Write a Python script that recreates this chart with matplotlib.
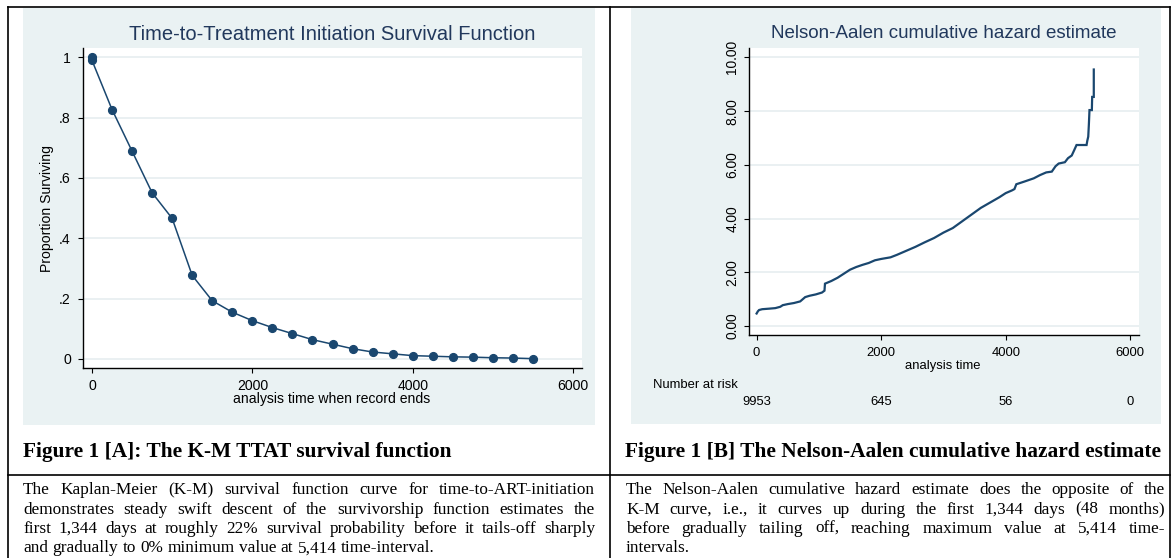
import matplotlib
matplotlib.use("Agg")
import matplotlib.pyplot as plt
from matplotlib.patches import Rectangle
from matplotlib.lines import Line2D
import matplotlib.transforms as mtransforms

# ---------------- data ----------------
km_time = [0, 0, 250, 500, 750, 1000, 1250, 1500, 1750, 2000, 2250, 2500, 2750,
           3000, 3250, 3500, 3750, 4000, 4250, 4500, 4750, 5000, 5250, 5500]
km_surv = [1.0, 0.99, 0.827, 0.689, 0.551, 0.466, 0.277, 0.193, 0.155, 0.127,
           0.104, 0.084, 0.064, 0.049, 0.034, 0.023, 0.017, 0.011, 0.009, 0.007,
           0.006, 0.004, 0.003, 0.001]

na_time = [0, 20, 40, 90, 200, 300, 380, 420, 500, 600, 700, 740, 780, 850, 950,
           1050, 1090, 1098, 1200, 1300, 1400, 1500, 1600, 1700, 1800, 1900, 2000,
           2150, 2250, 2400, 2550, 2700, 2850, 3000, 3150, 3300, 3450, 3600, 3750,
           3900, 4000, 4100, 4140, 4170, 4300, 4450, 4550, 4650, 4740, 4800, 4850,
           4950, 5000, 5060, 5100, 5137, 5298, 5310, 5325, 5335, 5345, 5383, 5388,
           5414, 5414]
na_haz = [0.47, 0.55, 0.60, 0.63, 0.65, 0.67, 0.72, 0.78, 0.82, 0.86, 0.92, 1.00,
          1.08, 1.13, 1.18, 1.25, 1.32, 1.58, 1.68, 1.80, 1.95, 2.10, 2.20, 2.28,
          2.35, 2.45, 2.50, 2.56, 2.65, 2.80, 2.95, 3.12, 3.28, 3.48, 3.65, 3.90,
          4.15, 4.40, 4.60, 4.80, 4.95, 5.05, 5.10, 5.28, 5.38, 5.50, 5.62, 5.72,
          5.75, 5.95, 6.05, 6.10, 6.25, 6.35, 6.55, 6.74, 6.74, 6.90, 7.05, 7.50,
          8.04, 8.04, 8.53, 8.53, 9.55]

risk_time = [0, 2000, 4000, 6000]
risk_n = ["9953", "645", "56", "0"]

xticks = [0, 2000, 4000, 6000]
km_yticks = [0, 0.2, 0.4, 0.6, 0.8, 1.0]
km_yticklabels = ["0", ".2", ".4", ".6", ".8", "1"]
na_yticks = [0, 2, 4, 6, 8, 10]
na_yticklabels = ["0.00", "2.00", "4.00", "6.00", "8.00", "10.00"]

title_a = "Time-to-Treatment Initiation Survival Function"
title_b = "Nelson-Aalen cumulative hazard estimate"
caption_a = "Figure 1 [A]: The K-M TTAT survival function"
caption_b = "Figure 1 [B] The Nelson-Aalen cumulative hazard estimate"
body_a = ["The Kaplan-Meier (K-M) survival function curve for time-to-ART-initiation",
          "demonstrates steady swift descent of the survivorship function estimates the",
          "first 1,344 days at roughly 22% survival probability before it tails-off sharply",
          "and gradually to 0% minimum value at 5,414 time-interval."]
body_b = ["The Nelson-Aalen cumulative hazard estimate does the opposite of the",
          "K-M curve, i.e., it curves up during the first 1,344 days (48 months)",
          "before gradually tailing off, reaching maximum value at 5,414 time-",
          "intervals."]

# ---------------- styling ----------------
W, H = 1172, 558
DPI = 100
NAVY = "#1a476f"
REGION = "#eaf2f3"
GRID = "#e6eef0"
TITLE_C = "#21385c"
SANS = "Liberation Sans"
SERIF = "Liberation Serif"
FS_A = 10.1
FS_B = 9.4

fig = plt.figure(figsize=(W / DPI, H / DPI), dpi=DPI)
fig.patch.set_facecolor("white")


def fx(x):
    return x / W


def fy(y):
    return 1 - y / H


def rect_px(x0, y0, x1, y1, **kw):
    fig.patches.append(Rectangle((fx(x0), fy(y1)), (x1 - x0) / W, (y1 - y0) / H,
                                 transform=fig.transFigure, **kw))


def line_px(x0, y0, x1, y1, lw=1.2):
    fig.lines.append(Line2D([fx(x0), fx(x1)], [fy(y0), fy(y1)], transform=fig.transFigure,
                            color="black", lw=lw, zorder=5))


# graph regions (light bluish gray)
rect_px(23, 8, 595, 425, facecolor=REGION, edgecolor="none", zorder=-10)
rect_px(631, 8, 1161, 424, facecolor=REGION, edgecolor="none", zorder=-10)


def style_axes(ax, fs):
    ax.set_facecolor("white")
    for s in ["top", "right"]:
        ax.spines[s].set_visible(False)
    for s in ["left", "bottom"]:
        ax.spines[s].set_color("black")
        ax.spines[s].set_linewidth(1.0)
    ax.tick_params(axis="both", direction="out", length=3.8, width=0.8, color="black",
                   labelsize=fs, labelcolor="black")
    for lab in ax.get_xticklabels() + ax.get_yticklabels():
        lab.set_fontfamily(SANS)


# ---------------- Panel A ----------------
axA = fig.add_axes([fx(83), fy(368), (582 - 83) / W, (368 - 48) / H], zorder=1)
axA.set_xlim(-112, 6112)
axA.set_ylim(-0.030, 1.031)
axA.set_yticks(km_yticks)
axA.set_yticklabels(km_yticklabels)
axA.set_xticks(xticks)
axA.set_xticklabels([str(t) for t in xticks])
axA.yaxis.grid(True, color=GRID, lw=1.2)
axA.set_axisbelow(True)
axA.plot(km_time, km_surv, color=NAVY, lw=1.1, marker="o", markersize=5.6,
         markerfacecolor=NAVY, markeredgecolor=NAVY, zorder=3, clip_on=False)
style_axes(axA, FS_A)
axA.tick_params(axis="y", pad=5)
axA.tick_params(axis="x", pad=4)

fig.text(fx(332), fy(34), title_a, ha="center", va="center", fontsize=14.5,
         color=TITLE_C, family=SANS)
fig.text(fx(47), fy(209), "Proportion Surviving", rotation=90, ha="center", va="center",
         fontsize=FS_A, family=SANS, color="black")
fig.text(fx(332), fy(399), "analysis time when record ends", ha="center", va="center",
         fontsize=FS_A, family=SANS, color="black")

# ---------------- Panel B ----------------
axB = fig.add_axes([fx(749), fy(335), (1139 - 749) / W, (335 - 48) / H], zorder=1)
axB.set_xlim(-122, 6140)
axB.set_ylim(-0.33, 10.35)
axB.set_yticks(na_yticks)
axB.set_yticklabels(na_yticklabels, rotation=90, va="center")
axB.set_xticks(xticks)
axB.set_xticklabels([str(t) for t in xticks])
axB.yaxis.grid(True, color=GRID, lw=1.2)
axB.set_axisbelow(True)
axB.plot(na_time, na_haz, color=NAVY, lw=1.6, zorder=3, solid_joinstyle="miter")
style_axes(axB, FS_B)
axB.tick_params(axis="y", pad=3.2, labelsize=9.9)
axB.tick_params(axis="x", pad=5.0)

fig.text(fx(944), fy(34), title_b, ha="center", va="center", fontsize=13.5,
         color=TITLE_C, family=SANS)
fig.text(fx(943), fy(366), "analysis time", ha="center", va="center",
         fontsize=FS_B, family=SANS, color="black")
fig.text(fx(653), fy(385), "Number at risk", ha="left", va="center",
         fontsize=FS_B, family=SANS, color="black")
blend = mtransforms.blended_transform_factory(axB.transData, fig.transFigure)
for t, n in zip(risk_time, risk_n):
    fig.text(t, fy(402), n, transform=blend, ha="center", va="center",
             fontsize=FS_B, family=SANS, color="black")

# ---------------- table lines ----------------
line_px(8, 7, 1170, 7)
line_px(8, 7, 8, 558)
line_px(610, 7, 610, 558)
line_px(1170, 7, 1170, 558)
line_px(8, 475, 1170, 475)

# ---------------- captions & body ----------------
fig.text(fx(23), fy(452), caption_a, ha="left", va="center", fontsize=15.4,
         fontweight="bold", family=SERIF, color="black")
fig.text(fx(625), fy(452), caption_b, ha="left", va="center", fontsize=15.4,
         fontweight="bold", family=SERIF, color="black")

fig.canvas.draw()
renderer = fig.canvas.get_renderer()

BODY_FS = 12.4


def justify(lines, x0, x1, baselines):
    sp = fig.text(0, 0, "a a", fontsize=BODY_FS, family=SERIF)
    sp2 = fig.text(0, 0, "aa", fontsize=BODY_FS, family=SERIF)
    space_w = sp.get_window_extent(renderer).width - sp2.get_window_extent(renderer).width
    sp.remove()
    sp2.remove()
    for i, (line, yb) in enumerate(zip(lines, baselines)):
        words = line.split(" ")
        texts = [fig.text(0, 0, w, fontsize=BODY_FS, family=SERIF, color="black",
                          va="baseline", ha="left") for w in words]
        widths = [t.get_window_extent(renderer).width for t in texts]
        last = (i == len(lines) - 1)
        if last or len(words) < 2:
            gap = space_w
        else:
            gap = (x1 - x0 - sum(widths)) / (len(words) - 1)
        x = x0
        for t, w in zip(texts, widths):
            t.set_position((fx(x), fy(yb)))
            x += w + gap


baselines = [494, 513.5, 533, 552.5]
justify(body_a, 23, 595, baselines)
justify(body_b, 626, 1165, baselines)

fig.savefig("out.png", dpi=DPI, facecolor="white")
